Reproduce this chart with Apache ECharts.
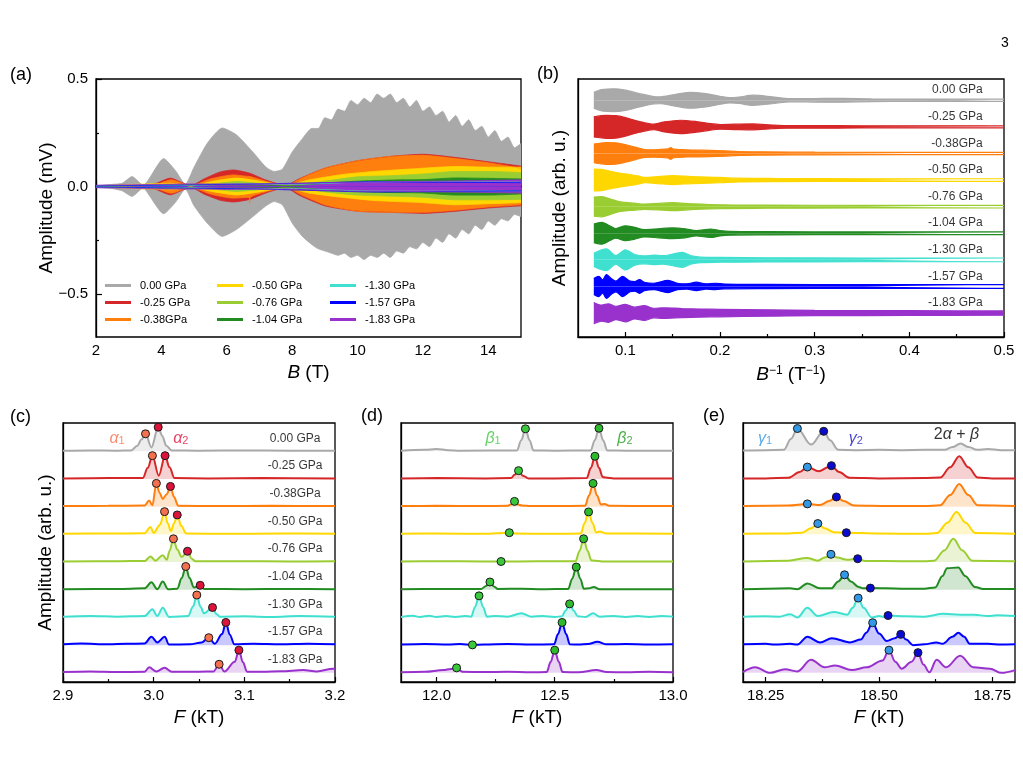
<!DOCTYPE html>
<html>
<head>
<meta charset="utf-8">
<title>Quantum oscillations under pressure</title>
<script src="https://cdn.jsdelivr.net/npm/echarts@6/dist/echarts.min.js"></script>
<style>
  html, body { margin: 0; padding: 0; background: #fff; }
  #chart { width: 1023px; height: 777px; }
</style>
</head>
<body>
<div id="chart"></div>
<script>
var FONT = '"Liberation Sans", Arial, Helvetica, sans-serif';

// pressures, top trace first
var pressures = ['0.00 GPa', '-0.25 GPa', '-0.38GPa', '-0.50 GPa', '-0.76 GPa', '-1.04 GPa', '-1.30 GPa', '-1.57 GPa', '-1.83 GPa'];
var colors = ['#a9a9a9', '#d62728', '#ff7f0e', '#ffd700', '#9acd32', '#228b22', '#40e0d0', '#0000ff', '#9932cc'];

// (a) oscillation envelope vs B: [B (T), upper (mV), lower (mV)]
var aGray = [[2.0,0.004,-0.004],[2.5,0.01,-0.01],[2.8,0.015,-0.02],[3.1,0.046,-0.046],[3.45,0.006,-0.006],[3.6,0.03,-0.035],[4.07,0.13,-0.127],[4.45,0.07,-0.07],[4.73,0.01,-0.012],[5.0,0.09,-0.09],[5.4,0.2,-0.17],[5.86,0.272,-0.232],[6.3,0.24,-0.2],[6.8,0.16,-0.14],[7.2,0.09,-0.09],[7.45,0.07,-0.07],[7.7,0.08,-0.085],[8.0,0.16,-0.17],[8.3,0.22,-0.23],[8.6,0.27,-0.27],[8.8,0.27,-0.29],[9.0,0.32,-0.30],[9.2,0.31,-0.31],[9.4,0.36,-0.32],[9.6,0.35,-0.31],[9.8,0.40,-0.33],[10.0,0.38,-0.32],[10.2,0.41,-0.34],[10.4,0.39,-0.32],[10.6,0.43,-0.33],[10.8,0.41,-0.31],[11.0,0.43,-0.33],[11.2,0.39,-0.30],[11.4,0.41,-0.31],[11.6,0.37,-0.28],[11.8,0.40,-0.29],[12.0,0.35,-0.26],[12.2,0.37,-0.28],[12.4,0.33,-0.24],[12.6,0.35,-0.26],[12.8,0.30,-0.22],[13.0,0.33,-0.24],[13.2,0.28,-0.20],[13.4,0.31,-0.22],[13.6,0.26,-0.18],[13.8,0.28,-0.20],[14.0,0.23,-0.16],[14.2,0.26,-0.18],[14.4,0.21,-0.15],[14.6,0.23,-0.16],[14.8,0.18,-0.13],[15.0,0.2,-0.14]];
var aRed = [[2.0,0.002,-0.002],[3.5,0.004,-0.004],[3.8,0.012,-0.012],[4.28,0.039,-0.039],[4.6,0.02,-0.02],[4.9,0.004,-0.004],[5.3,0.035,-0.035],[5.8,0.068,-0.064],[6.2,0.077,-0.072],[6.7,0.062,-0.06],[7.2,0.03,-0.03],[7.8,0.005,-0.005],[8.2,0.035,-0.04],[9.0,0.085,-0.09],[10.0,0.12,-0.115],[11.0,0.14,-0.12],[12.0,0.15,-0.125],[13.0,0.135,-0.115],[14.0,0.115,-0.1],[15.0,0.095,-0.09]];
var aOrange = [[2.0,0.002,-0.002],[3.8,0.008,-0.008],[4.3,0.031,-0.031],[4.9,0.003,-0.003],[5.5,0.035,-0.035],[6.2,0.054,-0.054],[6.68,0.047,-0.05],[6.7,0.047,-0.08],[6.72,0.046,-0.05],[7.3,0.02,-0.02],[7.8,0.004,-0.004],[8.3,0.04,-0.04],[9.0,0.085,-0.085],[10.0,0.12,-0.115],[11.0,0.14,-0.12],[12.0,0.145,-0.12],[13.0,0.13,-0.11],[14.0,0.11,-0.095],[15.0,0.085,-0.085]];
var aYellow = [[2.0,0.002,-0.002],[4.3,0.015,-0.015],[4.9,0.003,-0.003],[5.6,0.025,-0.025],[6.3,0.039,-0.039],[7.0,0.025,-0.025],[7.8,0.005,-0.005],[8.5,0.03,-0.03],[9.5,0.055,-0.05],[10.5,0.07,-0.065],[12.0,0.085,-0.075],[13.0,0.093,-0.085],[14.0,0.09,-0.08],[15.0,0.09,-0.075]];
var aLime = [[2.0,0.002,-0.002],[5.5,0.012,-0.012],[6.3,0.023,-0.023],[7.2,0.012,-0.012],[8.0,0.005,-0.005],[9.0,0.025,-0.025],[10.0,0.045,-0.04],[11.0,0.05,-0.045],[12.0,0.058,-0.05],[13.0,0.07,-0.062],[14.0,0.07,-0.062],[15.0,0.065,-0.06]];
var aGreen = [[2.0,0.002,-0.002],[6.0,0.008,-0.008],[8.0,0.004,-0.004],[9.0,0.015,-0.015],[10.0,0.025,-0.022],[11.0,0.03,-0.028],[12.0,0.032,-0.03],[13.0,0.04,-0.04],[14.0,0.038,-0.04],[15.0,0.035,-0.035]];
var aCyan = [[2.0,0.003,-0.003],[5.0,0.006,-0.006],[6.5,0.012,-0.012],[8.0,0.01,-0.01],[10.0,0.02,-0.02],[12.0,0.022,-0.022],[15.0,0.02,-0.02]];
var aBlue = [[2.0,0.003,-0.003],[5.0,0.008,-0.008],[7.0,0.012,-0.012],[9.0,0.018,-0.02],[10.5,0.022,-0.026],[12.0,0.02,-0.024],[15.0,0.018,-0.02]];
var aPurple = [[2.0,0.006,-0.006],[3.0,0.008,-0.008],[4.0,0.01,-0.012],[5.0,0.012,-0.012],[6.0,0.012,-0.014],[7.0,0.012,-0.012],[8.0,0.012,-0.012],[9.0,0.018,-0.018],[10.0,0.02,-0.022],[11.0,0.022,-0.022],[12.0,0.024,-0.024],[13.0,0.026,-0.026],[14.0,0.028,-0.028],[15.0,0.031,-0.031]];
var aBands = [aGray, aRed, aOrange, aYellow, aLime, aGreen, aCyan, aBlue, aPurple];

// (b) half width of each trace vs 1/B: [1/B (1/T), half amplitude (trace spacing = 1)]
var bGray = [[0.0667,0.3],[0.075,0.4],[0.088,0.43],[0.1,0.38],[0.115,0.25],[0.13,0.14],[0.137,0.13],[0.15,0.2],[0.168,0.3],[0.185,0.25],[0.2,0.15],[0.21,0.1],[0.22,0.12],[0.235,0.19],[0.255,0.13],[0.274,0.06],[0.29,0.06],[0.31,0.075],[0.33,0.07],[0.36,0.05],[0.4,0.045],[0.45,0.04],[0.5,0.04]];
var bRed = [[0.0667,0.38],[0.08,0.43],[0.09,0.42],[0.1,0.35],[0.115,0.2],[0.13,0.1],[0.14,0.18],[0.158,0.25],[0.175,0.2],[0.19,0.12],[0.2,0.09],[0.215,0.1],[0.235,0.11],[0.255,0.07],[0.27,0.05],[0.3,0.05],[0.35,0.04],[0.5,0.035]];
var bOrange = [[0.0667,0.35],[0.08,0.41],[0.09,0.4],[0.1,0.33],[0.11,0.24],[0.12,0.15],[0.13,0.14],[0.145,0.17],[0.148,0.22],[0.151,0.16],[0.17,0.13],[0.19,0.12],[0.205,0.1],[0.22,0.07],[0.25,0.06],[0.3,0.05],[0.5,0.04]];
var bYellow = [[0.0667,0.41],[0.075,0.4],[0.085,0.32],[0.1,0.23],[0.115,0.14],[0.12,0.1],[0.135,0.13],[0.15,0.17],[0.17,0.13],[0.2,0.1],[0.22,0.07],[0.26,0.06],[0.35,0.05],[0.5,0.05]];
var bLime = [[0.0667,0.36],[0.075,0.38],[0.085,0.28],[0.095,0.18],[0.11,0.13],[0.12,0.1],[0.15,0.15],[0.17,0.11],[0.2,0.07],[0.25,0.06],[0.35,0.05],[0.5,0.05]];
var bGreen = [[0.0667,0.35],[0.075,0.41],[0.085,0.25],[0.09,0.18],[0.1,0.28],[0.11,0.22],[0.12,0.14],[0.135,0.17],[0.15,0.2],[0.163,0.17],[0.175,0.1],[0.19,0.16],[0.2,0.1],[0.21,0.07],[0.25,0.06],[0.35,0.05],[0.5,0.05]];
var bCyan = [[0.0667,0.25],[0.08,0.41],[0.09,0.16],[0.1,0.38],[0.11,0.2],[0.12,0.15],[0.13,0.18],[0.14,0.16],[0.16,0.28],[0.17,0.15],[0.18,0.1],[0.2,0.09],[0.25,0.08],[0.35,0.07],[0.5,0.07]];
var bBlue = [[0.0667,0.3],[0.072,0.38],[0.076,0.25],[0.08,0.45],[0.085,0.3],[0.09,0.2],[0.097,0.38],[0.105,0.2],[0.11,0.18],[0.115,0.26],[0.12,0.16],[0.13,0.12],[0.145,0.23],[0.155,0.12],[0.165,0.1],[0.175,0.16],[0.185,0.1],[0.195,0.12],[0.205,0.09],[0.25,0.08],[0.35,0.07],[0.5,0.07]];
var bPurple = [[0.0667,0.4],[0.075,0.3],[0.082,0.35],[0.09,0.25],[0.1,0.33],[0.11,0.22],[0.12,0.28],[0.13,0.18],[0.14,0.2],[0.16,0.17],[0.18,0.15],[0.2,0.14],[0.25,0.12],[0.3,0.1],[0.4,0.09],[0.5,0.08]];
var bTraces = [bGray, bRed, bOrange, bYellow, bLime, bGreen, bCyan, bBlue, bPurple];

// (c) FFT near alpha: [F (kT), amplitude above own baseline]; marked peaks are listed separately
var cCurves = [
  [[2.9,0.02],[2.93,0.03],[2.96,0.02],[2.975,0.03],[2.982,0.2],[2.9865,0.42],[2.9975,0.14],[3.0095,0.55],[3.014,0.2],[3.02,0.03],[3.05,0.02],[3.1,0.03],[3.15,0.02],[3.2,0.02]],
  [[2.9,0.02],[2.95,0.03],[2.988,0.03],[2.9935,0.4],[3.0056,0.12],[3.0175,0.42],[3.023,0.03],[3.06,0.02],[3.12,0.03],[3.2,0.02]],
  [[2.9,0.02],[2.95,0.03],[2.99,0.04],[2.995,0.22],[2.9985,0.05],[3.0065,0.5],[3.010,0.28],[3.0145,0.45],[3.0225,0.35],[3.027,0.03],[3.07,0.02],[3.13,0.03],[3.2,0.02]],
  [[2.9,0.02],[2.95,0.03],[2.99,0.04],[2.9965,0.27],[3.0,0.05],[3.007,0.35],[3.0155,0.4],[3.019,0.12],[3.0225,0.4],[3.0305,0.3],[3.036,0.03],[3.08,0.02],[3.14,0.03],[3.2,0.02]],
  [[2.9,0.02],[2.96,0.03],[2.99,0.04],[2.9965,0.2],[3.002,0.05],[3.010,0.25],[3.0145,0.08],[3.0175,0.4],[3.026,0.45],[3.031,0.18],[3.042,0.12],[3.046,0.03],[3.09,0.03],[3.15,0.02],[3.2,0.03]],
  [[2.9,0.02],[2.96,0.03],[2.99,0.05],[2.9975,0.27],[3.004,0.02],[3.010,0.3],[3.016,0.02],[3.026,0.04],[3.031,0.42],[3.0395,0.42],[3.0445,0.08],[3.056,0.03],[3.1,0.02],[3.15,0.03],[3.2,0.02]],
  [[2.9,0.03],[2.93,0.05],[2.96,0.03],[2.99,0.05],[2.9986,0.3],[3.004,0.05],[3.010,0.35],[3.017,0.02],[3.038,0.05],[3.0435,0.4],[3.0515,0.4],[3.0555,0.15],[3.0695,0.12],[3.073,0.03],[3.1,0.04],[3.13,0.02],[3.16,0.05],[3.2,0.03]],
  [[2.9,0.03],[2.92,0.06],[2.95,0.03],[2.97,0.05],[2.99,0.06],[2.9975,0.3],[3.004,0.1],[3.0122,0.3],[3.017,0.02],[3.04,0.03],[3.053,0.1],[3.0675,0.05],[3.0755,0.4],[3.084,0.38],[3.089,0.03],[3.11,0.05],[3.14,0.03],[3.17,0.05],[3.2,0.03]],
  [[2.9,0.03],[2.93,0.05],[2.96,0.03],[2.99,0.04],[2.995,0.2],[3.003,0.05],[3.012,0.18],[3.02,0.04],[3.05,0.04],[3.066,0.05],[3.078,0.05],[3.0895,0.4],[3.0985,0.38],[3.103,0.04],[3.12,0.04],[3.14,0.06],[3.165,0.1],[3.18,0.05],[3.198,0.15],[3.2,0.15]]
];
var alpha1 = [[2.991,0.63],[2.9986,0.84],[3.003,0.84],[3.012,0.82],[3.0218,0.84],[3.0354,0.84],[3.0476,0.81],[3.0608,0.27],[3.0722,0.31]];
var alpha2 = [[3.005,0.87],[3.0126,0.84],[3.0185,0.73],[3.026,0.7],[3.0373,0.39],[3.0513,0.16],[3.0649,0.36],[3.0796,0.82],[3.094,0.82]];

// (d) FFT near beta
var dCurves = [
  [[11.85,0.02],[11.95,0.05],[12.0,0.08],[12.05,0.04],[12.1,0.02],[12.34,0.03],[12.3585,0.4],[12.3935,0.4],[12.41,0.03],[12.5,0.02],[12.652,0.03],[12.6695,0.4],[12.7045,0.4],[12.722,0.03],[12.8,0.02],[13.0,0.02]],
  [[11.85,0.02],[12.0,0.03],[12.2,0.02],[12.315,0.03],[12.33,0.15],[12.365,0.12],[12.39,0.02],[12.5,0.02],[12.635,0.03],[12.653,0.4],[12.687,0.4],[12.703,0.07],[12.715,0.05],[12.75,0.02],[13.0,0.02]],
  [[11.85,0.02],[12.0,0.03],[12.2,0.02],[12.3,0.03],[12.315,0.08],[12.345,0.08],[12.36,0.04],[12.4,0.02],[12.5,0.02],[12.628,0.03],[12.645,0.4],[12.679,0.4],[12.695,0.08],[12.711,0.1],[12.73,0.03],[13.0,0.02]],
  [[11.85,0.02],[12.0,0.03],[12.2,0.02],[12.32,0.03],[12.5,0.02],[12.61,0.03],[12.626,0.4],[12.66,0.4],[12.675,0.07],[12.69,0.1],[12.72,0.03],[13.0,0.02]],
  [[11.85,0.02],[12.0,0.03],[12.2,0.02],[12.35,0.02],[12.5,0.03],[12.588,0.03],[12.605,0.4],[12.639,0.4],[12.655,0.06],[12.669,0.05],[12.7,0.02],[13.0,0.02]],
  [[11.85,0.02],[12.0,0.03],[12.19,0.03],[12.21,0.14],[12.243,0.12],[12.26,0.03],[12.36,0.04],[12.45,0.02],[12.557,0.03],[12.574,0.4],[12.608,0.4],[12.623,0.04],[12.645,0.05],[12.665,0.1],[12.69,0.02],[13.0,0.02]],
  [[11.85,0.02],[11.9,0.06],[11.93,0.02],[11.97,0.06],[12.0,0.02],[12.04,0.05],[12.08,0.02],[12.12,0.05],[12.147,0.03],[12.163,0.38],[12.197,0.38],[12.213,0.03],[12.25,0.05],[12.3,0.03],[12.359,0.15],[12.4,0.03],[12.45,0.05],[12.5,0.02],[12.53,0.04],[12.546,0.25],[12.58,0.25],[12.597,0.04],[12.63,0.02],[12.662,0.15],[12.69,0.03],[12.75,0.05],[12.8,0.02],[12.85,0.05],[12.9,0.02],[12.95,0.05],[13.0,0.03]],
  [[11.85,0.02],[11.95,0.04],[12.05,0.02],[12.1,0.04],[12.2,0.02],[12.3,0.04],[12.4,0.02],[12.497,0.03],[12.514,0.4],[12.548,0.4],[12.564,0.03],[12.6,0.02],[12.64,0.04],[12.68,0.12],[12.72,0.03],[12.8,0.04],[12.9,0.02],[13.0,0.03]],
  [[11.85,0.02],[11.95,0.04],[12.03,0.1],[12.06,0.14],[12.11,0.04],[12.2,0.03],[12.3,0.04],[12.4,0.02],[12.466,0.03],[12.483,0.4],[12.517,0.4],[12.533,0.03],[12.6,0.02],[12.676,0.1],[12.72,0.03],[12.8,0.02],[12.9,0.04],[13.0,0.02]]
];
var beta1 = [[12.376,0.81],[12.347,0.3],[12.33,0.19],[12.308,0.06],[12.273,0.02],[12.226,0.28],[12.18,0.78],[12.152,0.01],[12.085,0.18]];
var beta2 = [[12.687,0.83],[12.67,0.82],[12.662,0.84],[12.643,0.81],[12.622,0.84],[12.591,0.82],[12.563,0.49],[12.531,0.82],[12.5,0.82]];

// (e) FFT near gamma
var eCurves = [
  [[18.2,0.03],[18.25,0.04],[18.29,0.05],[18.306,0.45],[18.35,0.24],[18.392,0.4],[18.41,0.05],[18.45,0.04],[18.5,0.05],[18.55,0.04],[18.6,0.05],[18.645,0.05],[18.662,0.15],[18.68,0.28],[18.698,0.15],[18.716,0.05],[18.74,0.08],[18.77,0.04],[18.8,0.04]],
  [[18.2,0.02],[18.25,0.02],[18.3,0.04],[18.325,0.25],[18.367,0.28],[18.412,0.25],[18.435,0.04],[18.5,0.02],[18.6,0.03],[18.635,0.05],[18.657,0.42],[18.677,0.82],[18.697,0.42],[18.718,0.05],[18.75,0.02],[18.8,0.02]],
  [[18.2,0.02],[18.3,0.04],[18.37,0.06],[18.39,0.2],[18.422,0.2],[18.445,0.04],[18.52,0.02],[18.6,0.02],[18.635,0.05],[18.657,0.42],[18.677,0.82],[18.697,0.42],[18.718,0.05],[18.8,0.02]],
  [[18.2,0.02],[18.3,0.03],[18.33,0.06],[18.35,0.22],[18.38,0.22],[18.4,0.08],[18.5,0.03],[18.6,0.02],[18.628,0.05],[18.651,0.42],[18.671,0.81],[18.691,0.42],[18.712,0.05],[18.8,0.02]],
  [[18.2,0.02],[18.3,0.05],[18.341,0.15],[18.365,0.05],[18.38,0.16],[18.408,0.16],[18.43,0.08],[18.47,0.04],[18.55,0.03],[18.6,0.03],[18.622,0.05],[18.644,0.42],[18.664,0.84],[18.684,0.42],[18.705,0.05],[18.8,0.03]],
  [[18.2,0.02],[18.25,0.04],[18.304,0.05],[18.32,0.02],[18.342,0.23],[18.37,0.05],[18.395,0.05],[18.41,0.3],[18.438,0.3],[18.455,0.1],[18.465,0.05],[18.55,0.04],[18.6,0.04],[18.624,0.08],[18.64,0.5],[18.65,0.78],[18.675,0.8],[18.69,0.5],[18.712,0.1],[18.73,0.03],[18.8,0.03]],
  [[18.2,0.03],[18.25,0.04],[18.28,0.03],[18.304,0.12],[18.32,0.0],[18.342,0.35],[18.365,0.05],[18.4,0.2],[18.43,0.1],[18.442,0.35],[18.466,0.35],[18.484,0.0],[18.5,0.05],[18.51,0.02],[18.56,0.04],[18.6,0.03],[18.642,0.13],[18.68,0.1],[18.71,0.1],[18.74,0.05],[18.76,0.08],[18.8,0.05]],
  [[18.2,0.03],[18.25,0.05],[18.27,0.02],[18.304,0.05],[18.32,0.02],[18.342,0.3],[18.37,0.1],[18.396,0.25],[18.436,0.1],[18.46,0.2],[18.472,0.45],[18.5,0.42],[18.517,0.15],[18.535,0.25],[18.56,0.2],[18.575,0.0],[18.6,0.03],[18.627,0.1],[18.64,0.05],[18.662,0.3],[18.675,0.45],[18.688,0.3],[18.70,0.05],[18.74,0.05],[18.77,0.02],[18.8,0.03]],
  [[18.2,0.03],[18.227,0.2],[18.26,0.0],[18.293,0.13],[18.32,0.05],[18.35,0.47],[18.38,0.2],[18.403,0.27],[18.44,0.1],[18.473,0.2],[18.508,0.45],[18.536,0.4],[18.55,0.15],[18.572,0.4],[18.598,0.3],[18.611,0.02],[18.627,0.47],[18.648,0.2],[18.679,0.62],[18.708,0.2],[18.745,0.15],[18.77,0.0],[18.8,0.1]]
];
var gamma1 = [[18.32,0.82],[18.342,0.43],[18.342,0.1],[18.365,0.39],[18.394,0.28],[18.424,0.54],[18.454,0.7],[18.486,0.81],[18.522,0.82]];
var gamma2 = [[18.378,0.72],[18.395,0.48],[18.406,0.35],[18.428,0.06],[18.453,0.12],[18.481,0.06],[18.52,0.07],[18.548,0.39],[18.586,0.73]];

// ---------- layout ----------
var grids = [
  {left: 96, top: 79, width: 425, height: 258},
  {left: 578, top: 79, width: 426, height: 258},
  {left: 63, top: 423, width: 272, height: 259},
  {left: 401, top: 423, width: 272, height: 259},
  {left: 743, top: 423, width: 272, height: 259}
].map(function (g) {
  return Object.assign({show: true, borderColor: '#000', borderWidth: 1.3, backgroundColor: 'transparent', containLabel: false, outerBoundsMode: 'none'}, g);
});

var titleStyle = {fontSize: 19, color: '#000', fontFamily: FONT,
  rich: {i: {fontSize: 19, fontStyle: 'italic', fontFamily: FONT, color: '#000'},
         s: {fontSize: 12, fontFamily: FONT, color: '#000', verticalAlign: 'top'}}};

function mainX(g, min, max, ticks, labels, digits, name, gap) {
  return {
    type: 'value', gridIndex: g, min: min, max: max, position: 'bottom',
    axisLine: {show: true, lineStyle: {color: '#000', width: 1.3}},
    axisTick: {show: true, inside: true, length: 5, customValues: ticks, lineStyle: {color: '#000', width: 1.2}},
    axisLabel: {show: true, customValues: labels, margin: 6, color: '#000', fontSize: 15, fontFamily: FONT,
      formatter: function (v) { return v.toFixed(digits); }},
    splitLine: {show: false},
    name: name, nameLocation: 'middle', nameGap: gap, nameMoveOverlap: false, nameTextStyle: titleStyle
  };
}
function minorX(g, min, max, ticks) {
  return {
    type: 'value', gridIndex: g, min: min, max: max, position: 'bottom',
    axisLine: {show: false}, axisLabel: {show: false}, splitLine: {show: false},
    axisTick: {show: true, inside: true, length: 3, customValues: ticks, lineStyle: {color: '#000', width: 1.2}}
  };
}
function plainY(g, max, name, gap) {
  return {
    type: 'value', gridIndex: g, min: 0, max: max, position: 'left',
    axisLine: {show: true, lineStyle: {color: '#000', width: 1.3}},
    axisTick: {show: false}, axisLabel: {show: false}, splitLine: {show: false},
    name: name, nameLocation: 'middle', nameGap: gap, nameMoveOverlap: false, nameTextStyle: titleStyle
  };
}

var B_MAX = 9.7, F_MAX = 9.35;
var bOff = pressures.map(function (p, i) { return 0.9 + (8 - i); });
var fOff = pressures.map(function (p, i) { return 0.33 + (8 - i); });

var xAxes = [
  mainX(0, 2, 15, [2, 4, 6, 8, 10, 12, 14], [2, 4, 6, 8, 10, 12, 14], 0, '{i|B} (T)', 26),
  minorX(0, 2, 15, [3, 5, 7, 9, 11, 13]),
  mainX(1, 0.05, 0.5, [0.1, 0.2, 0.3, 0.4, 0.5], [0.1, 0.2, 0.3, 0.4, 0.5], 1, '{i|B}{s|\u22121} (T{s|\u22121})', 28),
  minorX(1, 0.05, 0.5, [0.15, 0.25, 0.35, 0.45]),
  mainX(2, 2.9, 3.2, [2.9, 3.0, 3.1, 3.2], [2.9, 3.0, 3.1, 3.2], 1, '{i|F} (kT)', 26),
  minorX(2, 2.9, 3.2, [2.95, 3.05, 3.15]),
  mainX(3, 11.85, 13.0, [12.0, 12.5, 13.0], [12.0, 12.5, 13.0], 1, '{i|F} (kT)', 26),
  minorX(3, 11.85, 13.0, [12.25, 12.75]),
  mainX(4, 18.2, 18.8, [18.25, 18.5, 18.75], [18.25, 18.5, 18.75], 2, '{i|F} (kT)', 26),
  minorX(4, 18.2, 18.8, [18.375, 18.625])
];

var yAxes = [
  {
    type: 'value', gridIndex: 0, min: -0.7, max: 0.5, position: 'left',
    axisLine: {show: true, lineStyle: {color: '#000', width: 1.3}},
    axisTick: {show: true, inside: true, length: 6, customValues: [-0.5, 0, 0.5], lineStyle: {color: '#000', width: 1.2}},
    axisLabel: {show: true, customValues: [-0.5, 0, 0.5], margin: 8, color: '#000', fontSize: 15, fontFamily: FONT,
      formatter: function (v) { return v < 0 ? '\u2212' + Math.abs(v).toFixed(1) : v.toFixed(1); }},
    splitLine: {show: false},
    name: 'Amplitude (mV)', nameLocation: 'middle', nameGap: 40, nameMoveOverlap: false, nameTextStyle: titleStyle
  },
  {
    type: 'value', gridIndex: 0, min: -0.7, max: 0.5, position: 'left',
    axisLine: {show: false}, axisLabel: {show: false}, splitLine: {show: false},
    axisTick: {show: true, inside: true, length: 3, customValues: [-0.25, 0.25], lineStyle: {color: '#000', width: 1.2}}
  },
  plainY(1, B_MAX, 'Amplitude (arb. u.)', 9),
  plainY(2, F_MAX, 'Amplitude (arb. u.)', 8),
  plainY(3, F_MAX, '', 8),
  plainY(4, F_MAX, '', 8)
];

var series = [];

// (a) filled envelopes, each fills to zero
aBands.forEach(function (pts, i) {
  [1, 2].forEach(function (k) {
    series.push({
      type: 'line', name: pressures[i], xAxisIndex: 0, yAxisIndex: 0, silent: true,
      data: pts.map(function (p) { return [p[0], p[k]]; }),
      symbol: 'none', showSymbol: false, smooth: 0.2,
      lineStyle: {color: colors[i], width: 0.8}, itemStyle: {color: colors[i]},
      areaStyle: {color: colors[i], opacity: 1}
    });
  });
});

// (b) stacked traces, band around own baseline
bTraces.forEach(function (pts, i) {
  [1, -1].forEach(function (sgn) {
    series.push({
      type: 'line', name: 'b ' + pressures[i], xAxisIndex: 2, yAxisIndex: 2, silent: true,
      data: pts.map(function (p) { return [p[0], bOff[i] + sgn * p[1]]; }),
      symbol: 'none', showSymbol: false, smooth: 0.3,
      lineStyle: {color: colors[i], width: 1.2}, itemStyle: {color: colors[i]},
      areaStyle: {color: colors[i], opacity: 1, origin: bOff[i]}
    });
  });
});
series.push({
  type: 'scatter', xAxisIndex: 2, yAxisIndex: 2, silent: true, symbolSize: 1,
  itemStyle: {color: 'rgba(0,0,0,0)'},
  data: pressures.map(function (p, i) { return {value: [0.478, bOff[i] + 0.38], name: p}; }),
  label: {show: true, position: 'left', distance: 0, formatter: '{b}', color: '#000', fontSize: 12, fontFamily: FONT},
  z: 6
});

// (c)(d)(e) FFT spectra
function mergePeaks(curve, peaks) {
  return curve.concat(peaks).sort(function (a, b) { return a[0] - b[0]; });
}
function hexA(hex, a) {
  var n = parseInt(hex.slice(1), 16);
  return 'rgba(' + (n >> 16) + ',' + ((n >> 8) & 255) + ',' + (n & 255) + ',' + a + ')';
}
var fftPanels = [
  {g: 2, curves: cCurves, p1: alpha1, p2: alpha2, c1: '#f4714f', c2: '#dc143c'},
  {g: 3, curves: dCurves, p1: beta1, p2: beta2, c1: '#3cc83c', c2: '#2dbb2d'},
  {g: 4, curves: eCurves, p1: gamma1, p2: gamma2, c1: '#3399e6', c2: '#0a0ad0'}
];
fftPanels.forEach(function (P) {
  var xi = P.g * 2, yi = P.g + 1;
  P.curves.forEach(function (curve, i) {
    var pts = mergePeaks(curve, [P.p1[i], P.p2[i]]);
    series.push({
      type: 'line', name: 'f' + P.g + ' ' + pressures[i], xAxisIndex: xi, yAxisIndex: yi, silent: true,
      data: pts.map(function (p) { return [p[0], fOff[i] + p[1]]; }),
      symbol: 'none', showSymbol: false, smooth: 0.35, smoothMonotone: 'x',
      lineStyle: {color: colors[i], width: 2}, itemStyle: {color: colors[i]},
      areaStyle: {color: hexA(colors[i], 0.3), origin: fOff[i]}
    });
  });
  [[P.p1, P.c1], [P.p2, P.c2]].forEach(function (pc) {
    series.push({
      type: 'scatter', xAxisIndex: xi, yAxisIndex: yi, silent: true, symbolSize: 8,
      itemStyle: {color: pc[1], borderColor: '#1a1a1a', borderWidth: 1, opacity: 1},
      data: pc[0].map(function (p, i) { return [p[0], fOff[i] + p[1]]; }),
      z: 8
    });
  });
});

// text labels inside (c)(d)(e)
function textSeries(xi, yi, items) {
  return {
    type: 'scatter', xAxisIndex: xi, yAxisIndex: yi, silent: true, symbolSize: 1,
    itemStyle: {color: 'rgba(0,0,0,0)'}, z: 9,
    data: items.map(function (t) {
      return {value: [t.x, t.y], name: t.text,
        label: {show: true, position: 'inside', formatter: t.text, color: t.color || '#000',
          fontSize: t.size || 12, fontFamily: FONT,
          rich: {g: {fontSize: 16, fontStyle: 'italic', color: t.color, fontFamily: FONT},
                 n: {fontSize: 16, color: t.color, fontFamily: FONT},
                 sub: {fontSize: 11, color: t.color, fontFamily: FONT, verticalAlign: 'bottom'}}}};
    })
  };
}
series.push(textSeries(4, 3, pressures.map(function (p, i) { return {x: 3.156, y: fOff[i] + 0.47, text: p}; })));
series.push(textSeries(4, 3, [
  {x: 2.9596, y: fOff[0] + 0.47, text: '{g|\u03b1}{sub|1}', color: '#f4714f'},
  {x: 3.030, y: fOff[0] + 0.47, text: '{g|\u03b1}{sub|2}', color: '#dc143c'}
]));
series.push(textSeries(6, 4, [
  {x: 12.239, y: fOff[0] + 0.47, text: '{g|\u03b2}{sub|1}', color: '#3cc83c'},
  {x: 12.797, y: fOff[0] + 0.47, text: '{g|\u03b2}{sub|2}', color: '#1e9e1e'}
]));
series.push(textSeries(8, 5, [
  {x: 18.2485, y: fOff[0] + 0.47, text: '{g|\u03b3}{sub|1}', color: '#2e95e6'},
  {x: 18.4486, y: fOff[0] + 0.47, text: '{g|\u03b3}{sub|2}', color: '#1515c8'},
  {x: 18.671, y: fOff[0] + 0.6, text: '{n|2}{g|\u03b1}{n| + }{g|\u03b2}', color: '#000'}
]));

function legendCol(left, names) {
  return {
    show: true, orient: 'vertical', left: left, top: 280, padding: 0,
    itemWidth: 26, itemHeight: 3, itemGap: 6, icon: 'rect', selectedMode: false,
    data: names,
    textStyle: {fontSize: 11, fontFamily: FONT, color: '#000', padding: [0, 0, 0, 4]}
  };
}

var panelLetters = [['(a)', 10, 76], ['(b)', 537, 75], ['(c)', 10, 418], ['(d)', 361, 417], ['(e)', 703, 417]];

var option = {
  animation: false,
  backgroundColor: '#fff',
  grid: grids,
  xAxis: xAxes,
  yAxis: yAxes,
  legend: [legendCol(105, pressures.slice(0, 3)), legendCol(217, pressures.slice(3, 6)), legendCol(330, pressures.slice(6, 9))],
  series: series,
  graphic: panelLetters.map(function (t) {
    return {type: 'text', left: t[1], top: t[2] - 10,
      style: {text: t[0], fontSize: 18, fontFamily: FONT, fill: '#000'}};
  }).concat([{type: 'text', left: 1001, top: 36, style: {text: '3', fontSize: 14, fontFamily: FONT, fill: '#000'}}])
};

var chart = echarts.init(document.getElementById('chart'));
chart.setOption(option);
</script>
</body>
</html>
